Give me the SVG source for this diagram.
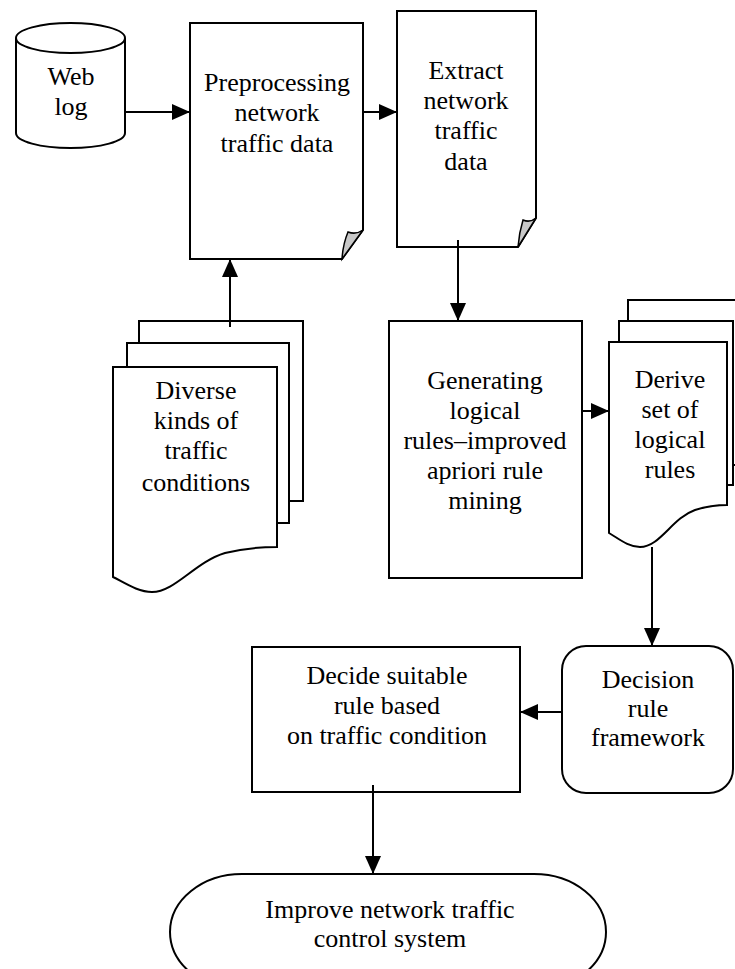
<svg xmlns="http://www.w3.org/2000/svg" width="735" height="969" viewBox="0 0 735 969">
<style>
.s{fill:#fff;stroke:#000;stroke-width:2;stroke-linejoin:miter}
.curl{fill:#c8c8c8;stroke:#000;stroke-width:1.5}
.t{font-family:"Liberation Serif","Times New Roman",serif;font-size:26px;fill:#000;text-anchor:middle}
.c{fill:none;stroke:#000;stroke-width:2}
</style>
<defs>
<marker id="ah" viewBox="0 0 10 10" refX="10" refY="5" markerWidth="9" markerHeight="9" markerUnits="userSpaceOnUse" orient="auto">
<path d="M0,0 L10,5 L0,10 Z" fill="#000"/>
</marker>
<marker id="a" viewBox="0 0 18 16" refX="18" refY="8" markerWidth="18" markerHeight="16" markerUnits="userSpaceOnUse" orient="auto">
<path d="M0,0 L18,8 L0,16 Z" fill="#000"/>
</marker>
</defs>
<rect width="735" height="969" fill="#fff"/>

<g id="weblog">
<path class="s" d="M16,38 V133 A54.5,15 0 0 0 125,133 V38"/>
<ellipse class="s" cx="70.5" cy="38" rx="54.5" ry="15"/>
<text class="t" x="71" y="85">Web</text>
<text class="t" x="71" y="115">log</text>
</g>

<g id="preprocessing">
<path class="s" d="M190,23 H363 V230 L342,259 H190 Z"/>
<path class="curl" d="M363,230 L342,259 Q343,244 348,232 Q356,235 363,230 Z"/>
<text class="t" x="277" y="91">Preprocessing</text>
<text class="t" x="277" y="121">network</text>
<text class="t" x="277" y="152">traffic data</text>
</g>

<g id="extract">
<path class="s" d="M397,11 H536 V218 L518,247 H397 Z"/>
<path class="curl" d="M536,218 L518,247 Q519,233 523,220 Q530,223 536,218 Z"/>
<text class="t" x="466" y="79">Extract</text>
<text class="t" x="466" y="109">network</text>
<text class="t" x="466" y="139">traffic</text>
<text class="t" x="466" y="170">data</text>
</g>

<g id="diverse">
<rect class="s" x="139" y="321" width="164" height="180"/>
<rect class="s" x="127" y="343" width="162" height="180"/>
<path class="s" d="M113,367 H277 V547 C265,547 245,548 225,553 C195,562 175,592 152,592 C138,592 125,583 113,577 Z"/>
<text class="t" x="196" y="399">Diverse</text>
<text class="t" x="196" y="429">kinds of</text>
<text class="t" x="196" y="459">traffic</text>
<text class="t" x="196" y="491">conditions</text>
</g>

<g id="generating">
<rect class="s" x="389" y="321" width="193" height="257"/>
<text class="t" x="485" y="389">Generating</text>
<text class="t" x="485" y="419">logical</text>
<text class="t" x="485" y="449">rules–improved</text>
<text class="t" x="485" y="479">apriori rule</text>
<text class="t" x="485" y="509">mining</text>
</g>

<g id="derive">
<rect class="s" x="628" y="300" width="120" height="165"/>
<rect class="s" x="619" y="321" width="114" height="164"/>
<path class="s" d="M609,342 H727 V505 C718,505 708,506 695,510 C672,518 660,547 640,547 C628,547 618,538 609,533 Z"/>
<text class="t" x="670" y="388">Derive</text>
<text class="t" x="670" y="418">set of</text>
<text class="t" x="670" y="448">logical</text>
<text class="t" x="670" y="478">rules</text>
</g>

<g id="decision">
<rect class="s" x="562" y="646" width="171" height="147" rx="24" ry="24"/>
<text class="t" x="648" y="688">Decision</text>
<text class="t" x="648" y="717">rule</text>
<text class="t" x="648" y="746">framework</text>
</g>

<g id="decide">
<rect class="s" x="252" y="647" width="268" height="145"/>
<text class="t" x="387" y="684">Decide suitable</text>
<text class="t" x="387" y="714">rule based</text>
<text class="t" x="387" y="744">on traffic condition</text>
</g>

<g id="improve">
<rect class="s" x="170" y="874" width="436" height="116" rx="72" ry="58"/>
<text class="t" x="390" y="918">Improve network traffic</text>
<text class="t" x="390" y="947">control system</text>
</g>

<g id="connectors">
<line class="c" x1="125" y1="112" x2="190" y2="112" marker-end="url(#a)"/>
<line class="c" x1="363" y1="112" x2="397" y2="112" marker-end="url(#a)"/>
<line class="c" x1="230" y1="327" x2="230" y2="259" marker-end="url(#a)"/>
<line class="c" x1="458" y1="240" x2="458" y2="321" marker-end="url(#a)"/>
<line class="c" x1="582" y1="411" x2="609" y2="411" marker-end="url(#a)"/>
<line class="c" x1="652" y1="547" x2="652" y2="646" marker-end="url(#a)"/>
<line class="c" x1="562" y1="712" x2="520" y2="712" marker-end="url(#a)"/>
<line class="c" x1="373" y1="785" x2="373" y2="874" marker-end="url(#a)"/>
</g>
</svg>
